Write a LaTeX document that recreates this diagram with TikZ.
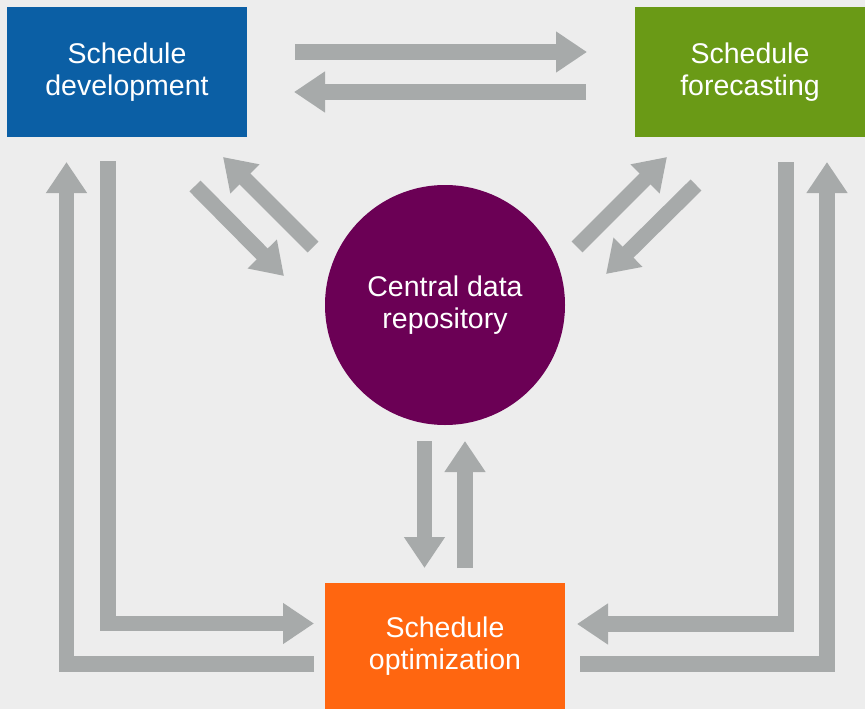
\documentclass[tikz,border=0pt]{standalone}
\usepackage{fontspec}
\setmainfont{Liberation Sans}
\usetikzlibrary{arrows.meta}
\definecolor{bgc}{HTML}{EDEDED}
\definecolor{arrc}{HTML}{A7AAAA}
\definecolor{bluec}{HTML}{0B5FA5}
\definecolor{greenc}{HTML}{6A9A16}
\definecolor{purplec}{HTML}{6B0055}
\definecolor{orangec}{HTML}{FF6610}
\tikzset{
  box/.style={rectangle, inner sep=0pt, text=white, align=center,
    font=\fontsize{28.5}{32}\selectfont},
  bigarrow/.style={draw=arrc, line width=15.5pt, line join=miter, line cap=butt,
    -{Triangle[width=39pt,length=31pt]}},
}
\begin{document}
\begin{tikzpicture}[x=1pt,y=-1pt]
\fill[bgc] (0,0) rectangle (865,709);
\useasboundingbox (0,0) rectangle (865,709);

\node[box, fill=bluec, minimum width=240pt, minimum height=130pt] (dev) at (127,72) {Schedule\\development};
\node[box, fill=greenc, minimum width=230pt, minimum height=130pt] (fore) at (750,72) {Schedule\\forecasting};
\node[box, circle, fill=purplec, minimum size=240pt] (repo) at (445,305) {Central data\\repository};
\node[box, fill=orangec, minimum width=240pt, minimum height=126pt] (opt) at (445,646) {Schedule\\optimization};

% arrow end coordinates
\coordinate (a1s) at (295,52);   \coordinate (a1e) at (587,52);
\coordinate (a2s) at (586,92);   \coordinate (a2e) at (294,92);
\coordinate (a3s) at (195,186);  \coordinate (a3e) at (284,276);
\coordinate (a4s) at (313,247);  \coordinate (a4e) at (223,157);
\coordinate (a5s) at (577,247);  \coordinate (a5e) at (667,157);
\coordinate (a6s) at (696,185);  \coordinate (a6e) at (606,274);
\coordinate (a7s) at (424.5,441); \coordinate (a7e) at (424.5,568);
\coordinate (a8s) at (465,568);  \coordinate (a8e) at (465,441);
\coordinate (a9s) at (314,664);  \coordinate (a9e) at (66.5,162);
\coordinate (a10s) at (108,161); \coordinate (a10e) at (314,623.5);
\coordinate (a11s) at (786,162); \coordinate (a11e) at (577,624);
\coordinate (a12s) at (580,664); \coordinate (a12e) at (827,162);

\draw[bigarrow] (a1s) -- (a1e);
\draw[bigarrow] (a2s) -- (a2e);
\draw[bigarrow] (a3s) -- (a3e);
\draw[bigarrow] (a4s) -- (a4e);
\draw[bigarrow] (a5s) -- (a5e);
\draw[bigarrow] (a6s) -- (a6e);
\draw[bigarrow] (a7s) -- (a7e);
\draw[bigarrow] (a8s) -- (a8e);
\draw[bigarrow] (a9s) -| (a9e);
\draw[bigarrow] (a10s) |- (a10e);
\draw[bigarrow] (a11s) |- (a11e);
\draw[bigarrow] (a12s) -| (a12e);
\end{tikzpicture}
\end{document}
